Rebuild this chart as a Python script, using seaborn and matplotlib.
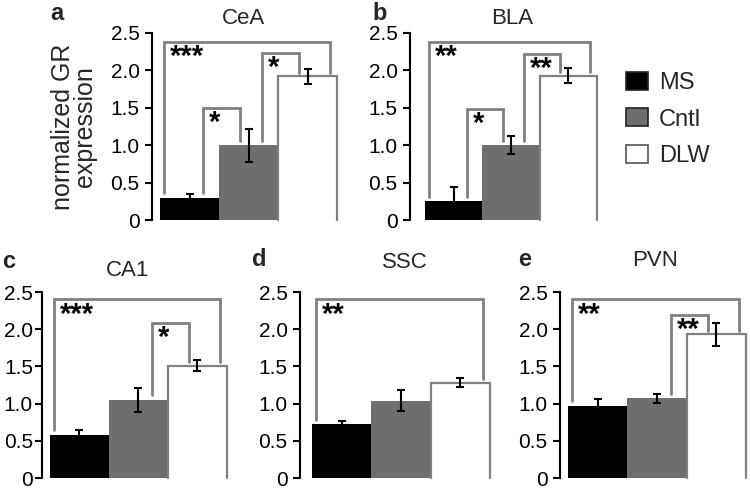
import matplotlib
matplotlib.use("Agg")
import matplotlib.pyplot as plt
import matplotlib.transforms as mtransforms
from matplotlib.patches import Patch
import pandas as pd
import seaborn as sns

sns.set_theme(style="white")
plt.rcParams["font.family"] = ["Liberation Sans", "DejaVu Sans"]

groups = ["MS", "Cntl", "DLW"]
colors = ["#000000", "#6e6e6e", "#ffffff"]
ytick_values = [0, 0.5, 1.0, 1.5, 2.0, 2.5]
ytick_labels = ["0", "0.5", "1.0", "1.5", "2.0", "2.5"]

regions = ["CeA", "BLA", "CA1", "SSC", "PVN"]
letters = ["a", "b", "c", "d", "e"]

cea_mean = [0.30, 1.00, 1.92]
cea_err = [0.05, 0.22, 0.10]
bla_mean = [0.25, 1.00, 1.93]
bla_err = [0.19, 0.12, 0.10]
ca1_mean = [0.58, 1.05, 1.51]
ca1_err = [0.07, 0.16, 0.07]
ssc_mean = [0.72, 1.04, 1.28]
ssc_err = [0.04, 0.14, 0.06]
pvn_mean = [0.97, 1.07, 1.93]
pvn_err = [0.09, 0.06, 0.16]

# significance brackets: (group i, group j, bracket top, stars)
cea_sig = [(0, 2, 2.38, "***"), (0, 1, 1.50, "*"), (1, 2, 2.23, "*")]
bla_sig = [(0, 2, 2.38, "**"), (0, 1, 1.48, "*"), (1, 2, 2.22, "**")]
ca1_sig = [(0, 2, 2.40, "***"), (1, 2, 2.09, "*")]
ssc_sig = [(0, 2, 2.40, "**")]
pvn_sig = [(0, 2, 2.40, "**"), (1, 2, 2.19, "**")]

means = [cea_mean, bla_mean, ca1_mean, ssc_mean, pvn_mean]
errs = [cea_err, bla_err, ca1_err, ssc_err, pvn_err]
sigs = [cea_sig, bla_sig, ca1_sig, ssc_sig, pvn_sig]

W, H = 750, 488
# panel layout in pixels: spine x, bars start, bars end, y of 0, y of 2.5, tick pad
layout = [
    (152, 160, 337, 220, 33, 4),
    (410, 425, 597, 220, 33, 4),
    (42, 50, 227, 478, 292, 1.5),
    (300, 312, 490, 478, 292, 4),
    (560, 568, 746, 478, 292, 4),
]
title_pos = [(244, 19), (512, 19), (128, 271), (405, 263), (655, 261)]
letter_pos = [(50, 13), (372, 13), (2, 262), (252, 260), (518, 260)]

fig = plt.figure(figsize=(W / 100, H / 100), dpi=100)
bracket_color = "#808080"

for k in range(5):
    sx, bx0, bx1, y0, y25, pad = layout[k]
    ax = fig.add_axes([sx / W, 1 - y0 / H, (bx1 + 3 - sx) / W, (y0 - y25) / H])

    df = pd.DataFrame({"group": groups, "value": means[k]})
    sns.barplot(data=df, x="group", y="value", hue="group", order=groups, hue_order=groups,
                palette=dict(zip(groups, colors)), width=1.0, saturation=1, linewidth=0,
                errorbar=None, legend=False, ax=ax)

    u = 3 / (bx1 - bx0)
    ax.set_xlim(-0.5 - (bx0 - sx) * u, 2.5 + 3 * u)
    ax.set_ylim(0, 2.5)

    # outline of the white bar (sides and top only)
    for bar in ax.containers[2]:
        x, w, h = bar.get_x(), bar.get_width(), bar.get_height()
        ax.plot([x, x, x + w, x + w], [0, h, h, 0], color=bracket_color, lw=1.6,
                solid_joinstyle="miter", clip_on=False, zorder=3)

    ax.errorbar(range(3), means[k], yerr=errs[k], fmt="none", ecolor="black",
                elinewidth=1.5, capsize=3, capthick=1.5, zorder=4)

    for i, j, top, stars in sigs[k]:
        if i == 0 and j == 2:
            xl, xr = -0.43, 2.38
        else:
            xl, xr = i + 0.23, j - 0.14
        bl = means[k][i] + 0.06
        br = means[k][j] + 0.05
        ax.plot([xl, xl, xr, xr], [bl, top, top, br], color=bracket_color, lw=2,
                solid_joinstyle="miter", clip_on=False, zorder=5)
        tr = mtransforms.offset_copy(ax.transData, fig=fig, x=6, y=-1, units="dots")
        ax.text(xl, top, stars, transform=tr, ha="left", va="top", fontsize=21,
                fontweight="bold", color="black", zorder=6)

    ax.set_xlabel("")
    ax.set_ylabel("")
    ax.set_xticks([])
    ax.set_yticks(ytick_values)
    ax.set_yticklabels(ytick_labels, fontsize=15)
    ax.tick_params(axis="y", left=True, direction="out", length=5, width=1.5,
                   color="black", pad=pad, labelcolor="black")
    for side in ["top", "right", "bottom"]:
        ax.spines[side].set_visible(False)
    ax.spines["left"].set_color("black")
    ax.spines["left"].set_linewidth(1.5)
    ax.patch.set_alpha(0)

    tx, ty = title_pos[k]
    fig.text(tx / W, 1 - ty / H, regions[k], ha="center", va="center", fontsize=16)
    lx, ly = letter_pos[k]
    fig.text(lx / W, 1 - ly / H, letters[k], ha="left", va="center", fontsize=17,
             fontweight="bold")

fig.text(74 / W, 1 - 127 / H, "normalized GR\nexpression", rotation=90, ha="center",
         va="center", fontsize=18, linespacing=0.9)

handles = [Patch(facecolor=c, edgecolor="#555555" if c == "#ffffff" else "#222222", lw=1.2)
           for c in colors]
fig.legend(handles, groups, loc="upper left", bbox_to_anchor=(626 / W, 1 - 72 / H),
           frameon=False, fontsize=17, handlelength=0.95, handleheight=0.8,
           handletextpad=0.45, labelspacing=0.6, borderpad=0, borderaxespad=0)

fig.savefig("out.png", dpi=100)
plt.close(fig)
